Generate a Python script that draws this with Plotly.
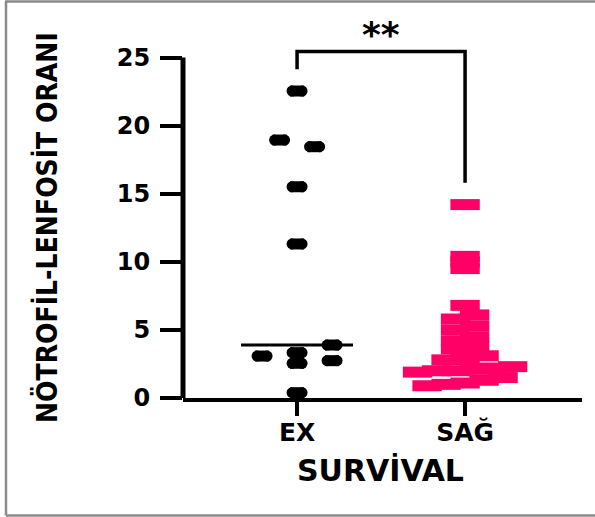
import plotly.graph_objects as go

# ---------------- data ----------------
categories = ["EX", "SAĞ"]
ex_values = [22.54, 18.94, 18.45, 15.51, 11.31, 3.89, 3.08, 3.33, 2.55, 2.74, 0.39]
ex_slots = [0, -0.5, 0.5, 0, 0, 1, -1, 0, 0, 1, 0]   # scatter column of each EX point
sag_values = [14.2, 10.4, 10.0, 9.5, 6.8, 6.1, 5.8, 5.3, 5.0, 4.5, 4.2,
              3.8, 3.6, 3.1, 2.9, 2.8, 2.3, 2.2, 2.1, 2.0, 2.0, 1.9,
              1.5, 1.3, 1.1, 1.0, 0.9]
y_ticks = [0, 5, 10, 15, 20, 25]
y_title = "NÖTROFİL-LENFOSİT ORANI"
x_title = "SURVİVAL"
sig_label = "**"

# ---------------- layout geometry ----------------
W, H = 595, 517
L, R, T, B = 183, 13, 45, 119
plot_w, plot_h = W - L - R, H - T - B
x_range = [-0.679, 1.696]
px_per_x = plot_w / (x_range[1] - x_range[0])
px_per_y = 13.62
y_range = [0, plot_h / px_per_y]

def dx(px):
    return px / px_per_x

def paper_x(px):
    return (px - L) / plot_w

def paper_y(py):
    return (H - B - py) / plot_h

BLACK = "#000000"
PINK = "#FF0066"

# EX column positions
ex_step = dx(35)
ex_x = [0 + s * ex_step for s in ex_slots]

# SAĞ: bin rows and centre each row (column scatter layout)
bin_h = 0.8
sag_step = dx(19)
bins = {}
for v in sorted(sag_values):
    bins.setdefault(int(v / bin_h + 1e-9), []).append(v)
sag_x, sag_y = [], []
for b, vals in bins.items():
    n = len(vals)
    for i, v in enumerate(vals):
        sag_x.append(1 + (i - (n - 1) / 2) * sag_step)
        sag_y.append(v)

ex_sorted = sorted(ex_values)
ex_median = ex_sorted[len(ex_sorted) // 2]

fig = go.Figure()

# EX median line
half = dx(56)
fig.add_trace(go.Scatter(x=[0 - half, 0 + half], y=[ex_median, ex_median], mode="lines",
                         line=dict(color=BLACK, width=3), hoverinfo="skip", showlegend=False))

# EX points as small ellipses (bar + two round ends)
cap = dx(5)
fig.add_trace(go.Scatter(x=ex_x, y=ex_values, mode="markers",
                         marker=dict(symbol="line-ew", size=10, line=dict(color=BLACK, width=11)),
                         showlegend=False))
for off in (-cap, cap):
    fig.add_trace(go.Scatter(x=[x + off for x in ex_x], y=ex_values, mode="markers",
                             marker=dict(symbol="circle", size=11, color=BLACK, line=dict(width=0)),
                             showlegend=False, hoverinfo="skip"))

# SAĞ points as rectangles
fig.add_trace(go.Scatter(x=sag_x, y=sag_y, mode="markers",
                         marker=dict(symbol="line-ew", size=21, line=dict(color=PINK, width=11)),
                         showlegend=False))

# significance bracket
top_y = max(ex_values) + 2.9
fig.add_trace(go.Scatter(x=[0, 0, 1, 1],
                         y=[max(ex_values) + 1.6, top_y, top_y, max(sag_values) + 1.6],
                         mode="lines", line=dict(color=BLACK, width=3.5),
                         hoverinfo="skip", showlegend=False))

shapes = [
    # y axis line from 0 to 25
    dict(type="line", xref="paper", yref="y", x0=0, x1=0, y0=0, y1=y_ticks[-1],
         line=dict(color=BLACK, width=5)),
    # outer grey frame
    dict(type="line", xref="paper", yref="paper", x0=paper_x(5), x1=paper_x(600),
         y0=paper_y(1.5), y1=paper_y(1.5), line=dict(color="#8a8a8a", width=2.5)),
    dict(type="line", xref="paper", yref="paper", x0=paper_x(6), x1=paper_x(6),
         y0=paper_y(1.5), y1=paper_y(515.5), line=dict(color="#8a8a8a", width=2.5)),
    dict(type="line", xref="paper", yref="paper", x0=paper_x(6), x1=paper_x(600),
         y0=paper_y(515.5), y1=paper_y(515.5), line=dict(color="#8a8a8a", width=2.5)),
]

annotations = [
    dict(text=y_title, xref="paper", yref="paper", x=paper_x(47), y=paper_y(228),
         textangle=-90, showarrow=False, xanchor="center", yanchor="middle",
         font=dict(family="DejaVu Sans Condensed", size=28, weight="bold", color=BLACK)),
    dict(text=x_title, xref="paper", yref="paper", x=paper_x(380), y=paper_y(470),
         showarrow=False, xanchor="center", yanchor="middle",
         font=dict(family="DejaVu Sans", size=30, weight="bold", color=BLACK)),
    dict(text=sig_label, xref="x", yref="paper", x=0.5, y=paper_y(34),
         showarrow=False, xanchor="center", yanchor="middle",
         font=dict(family="DejaVu Sans", size=36, weight="bold", color=BLACK)),
]

fig.update_layout(
    width=W, height=H, autosize=False,
    margin=dict(l=L, r=R, t=T, b=B, pad=0),
    paper_bgcolor="white", plot_bgcolor="white",
    shapes=shapes, annotations=annotations,
    xaxis=dict(range=x_range, tickvals=[0, 1], ticktext=categories,
               showgrid=False, zeroline=False, showline=True, linecolor=BLACK, linewidth=4,
               ticks="outside", ticklen=14, tickwidth=4, tickcolor=BLACK, ticklabelstandoff=-5,
               tickfont=dict(family="DejaVu Sans", size=25, weight="bold", color=BLACK)),
    yaxis=dict(range=y_range, tickvals=y_ticks, showgrid=False, zeroline=False, showline=False,
               ticks="outside", ticklen=22, tickwidth=4, tickcolor=BLACK, ticklabelstandoff=5,
               tickfont=dict(family="DejaVu Sans", size=24, weight="bold", color=BLACK)),
)

fig.write_html("out.html", config={"displayModeBar": False},
               post_script="document.body.style.margin='0';")
